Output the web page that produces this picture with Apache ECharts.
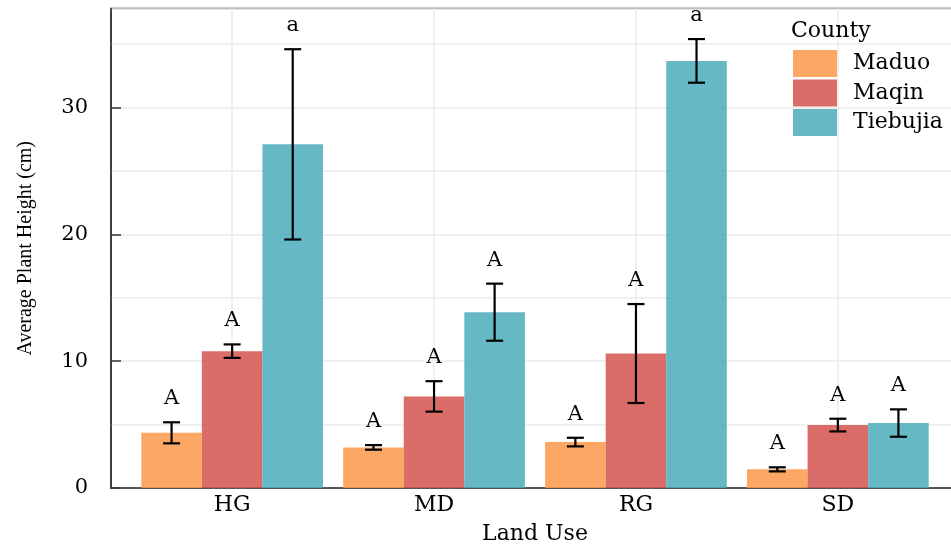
<!DOCTYPE html>
<html><head><meta charset="utf-8">
<script src="https://cdn.jsdelivr.net/npm/echarts@6/dist/echarts.min.js"></script>
<style>html,body{margin:0;padding:0;background:#fff}#c{width:951px;height:544px}</style>
</head><body><div id="c"></div>
<script>
const categories = ['HG', 'MD', 'RG', 'SD'];
const counties = ['Maduo', 'Maqin', 'Tiebujia'];
const maduoMean = [4.35, 3.20, 3.62, 1.47];
const maduoSE = [0.83, 0.18, 0.34, 0.16];
const maduoLetters = ['A', 'A', 'A', 'A'];
const maqinMean = [10.79, 7.22, 10.60, 4.96];
const maqinSE = [0.53, 1.20, 3.90, 0.50];
const maqinLetters = ['A', 'A', 'A', 'A'];
const tiebujiaMean = [27.09, 13.86, 33.67, 5.12];
const tiebujiaSE = [7.50, 2.25, 1.72, 1.08];
const tiebujiaLetters = ['a', 'A', 'a', 'A'];
const yTickLabels = ['0', '10', '20', '30'];

const colors = ['#FC9949', '#D5534D', '#4BADBA'];
const serif = '"DejaVu Serif", "Liberation Serif", serif';
const dodge = [-0.3, 0, 0.3];
const barHalf = 0.15;

function makeRender(k, letters, color) {
  return function (params, api) {
    const c = api.value(0) + dodge[k];
    const m = api.value(1);
    const se = api.value(2);
    const tl = api.coord([c - barHalf, m]);
    const br = api.coord([c + barHalf, 0]);
    const hi = api.coord([c, m + se]);
    const lo = api.coord([c, m - se]);
    const cap = 8.5;
    const ls = { stroke: '#000', lineWidth: 2.2 };
    return {
      type: 'group',
      children: [
        { type: 'rect', shape: { x: tl[0], y: tl[1], width: br[0] - tl[0], height: br[1] - tl[1] },
          style: { fill: color, opacity: 0.85 } },
        { type: 'line', shape: { x1: hi[0], y1: hi[1], x2: lo[0], y2: lo[1] }, style: ls },
        { type: 'line', shape: { x1: hi[0] - cap, y1: hi[1], x2: hi[0] + cap, y2: hi[1] }, style: ls },
        { type: 'line', shape: { x1: lo[0] - cap, y1: lo[1], x2: lo[0] + cap, y2: lo[1] }, style: ls },
        { type: 'text', x: hi[0], y: hi[1] - 13,
          style: { text: letters[params.dataIndex], font: '21px ' + serif, fill: '#000',
                   align: 'center', verticalAlign: 'bottom' } }
      ]
    };
  };
}

const means = [maduoMean, maqinMean, tiebujiaMean];
const ses = [maduoSE, maqinSE, tiebujiaSE];
const letters = [maduoLetters, maqinLetters, tiebujiaLetters];

const series = counties.map((name, k) => ({
  name: name,
  type: 'custom',
  xAxisIndex: 0,
  yAxisIndex: 0,
  itemStyle: { color: colors[k], opacity: 0.85 },
  renderItem: makeRender(k, letters[k], colors[k]),
  encode: { x: 0, y: 1 },
  data: categories.map((cat, i) => [i, means[k][i], ses[k][i]])
}));

const catPositions = categories.map((c, i) => i);

const chart = echarts.init(document.getElementById('c'));
chart.setOption({
  animation: false,
  backgroundColor: '#fff',
  title: {
    text: 'County', left: 791, top: 20, padding: 0,
    textStyle: { fontFamily: serif, fontSize: 22, fontWeight: 'normal', color: '#000' }
  },
  legend: {
    orient: 'vertical', left: 793, top: 50, padding: 0,
    itemWidth: 44, itemHeight: 27, itemGap: 2.5,
    icon: 'rect',
    data: counties,
    textStyle: { fontFamily: serif, fontSize: 22, color: '#000', padding: [0, 0, 0, 11] }
  },
  grid: {
    left: 111, top: 8.5, width: 848, height: 479.5,
    outerBoundsMode: 'none', containLabel: false,
    show: true, borderColor: '#333', borderWidth: 1.5, backgroundColor: 'transparent'
  },
  xAxis: {
    type: 'value', min: -0.6, max: 3.6,
    axisLine: { show: true, onZero: false, lineStyle: { color: '#333', width: 1.5 } },
    axisTick: { show: false, customValues: catPositions },
    splitLine: { show: true, lineStyle: { color: '#EBEBEB', width: 1.5 } },
    axisLabel: {
      customValues: catPositions,
      margin: 6, color: '#000', fontFamily: serif, fontSize: 22,
      formatter: v => categories[Math.round(v)] || ''
    },
    name: 'Land Use', nameLocation: 'middle', nameGap: 35,
    nameTextStyle: { color: '#000', fontFamily: serif, fontSize: 22 }
  },
  yAxis: [
    {
      type: 'value', min: 0, max: 37.8, interval: 5, position: 'left',
      axisLine: { show: true, onZero: false, lineStyle: { color: '#333', width: 1.5 } },
      axisTick: { show: false }, axisLabel: { show: false },
      splitLine: { show: true, lineStyle: { color: '#EBEBEB', width: 1.5 } }
    },
    {
      type: 'value', min: 0, max: 37.8, interval: 10, position: 'left',
      axisLine: { show: false, onZero: false },
      axisTick: { show: true, inside: true, length: 10, lineStyle: { color: '#333', width: 1.5 } },
      splitLine: { show: false },
      axisLabel: {
        margin: 23, color: '#000', fontFamily: serif, fontSize: 21, showMaxLabel: false,
        formatter: v => { const i = Math.round(v / 10); return (Math.abs(v - i * 10) < 1e-6 && yTickLabels[i] !== undefined) ? yTickLabels[i] : ''; }
      },
      name: 'Average Plant Height (cm)', nameLocation: 'middle', nameGap: 75,
      nameTextStyle: { color: '#000', fontFamily: '"Liberation Serif", serif', fontSize: 20 }
    }
  ],
  series: series
});
</script>
</body></html>
